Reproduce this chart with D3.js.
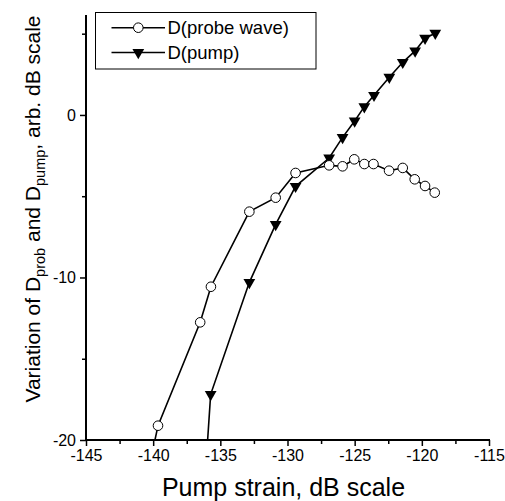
<!DOCTYPE html>
<html><head><meta charset="utf-8">
<script src="https://cdn.jsdelivr.net/npm/d3@7"></script>
<style>body{margin:0;background:#fff}svg{display:block}text{font-family:"Liberation Sans",Arial,sans-serif;fill:#000}</style>
</head><body>
<svg id="c" width="505" height="501"></svg>
<script>
// data
const probeX = [-140.2, -139.64, -136.5, -135.7, -132.84, -130.88, -129.4, -126.9, -125.9, -125.03, -124.28, -123.6, -122.44, -121.42, -120.53, -119.76, -119.04];
const probeY = [-21.3, -19.12, -12.76, -10.57, -5.95, -5.09, -3.57, -3.1, -3.16, -2.73, -3.02, -3.02, -3.43, -3.26, -3.96, -4.37, -4.78];
const pumpX = [-136.5, -135.72, -132.84, -130.88, -129.4, -126.9, -125.9, -125.0, -124.28, -123.56, -122.42, -121.42, -120.5, -119.76, -119.0];
const pumpY = [-26.9, -17.19, -10.3, -6.73, -4.39, -2.65, -1.38, -0.37, 0.51, 1.21, 2.32, 3.24, 3.94, 4.72, 5.03];
const xMajor = [-145, -140, -135, -130, -125, -120, -115];
const xMinor = [-142.5, -137.5, -132.5, -127.5, -122.5, -117.5];
const yMajor = [-20, -10, 0];
const yMinor = [-15, -5, 5];
const legendLabels = ["D(probe wave)", "D(pump)"];

const svg = d3.select("#c");
const L = 86, R = 489, T = 15, B = 440;
const x = d3.scaleLinear().domain([-145, -115]).range([L, R]);
const y = d3.scaleLinear().domain([-20, 6.15]).range([B, T]);
const fmt = d => String(d);

svg.append("defs").append("clipPath").attr("id", "clip")
  .append("rect").attr("x", L).attr("y", T).attr("width", R - L).attr("height", B - T);

// axes
svg.append("g").attr("transform", `translate(0,${B})`)
  .call(d3.axisBottom(x).tickValues(xMajor).tickSize(6).tickPadding(4).tickFormat(fmt));
svg.append("g").attr("transform", `translate(0,${B})`)
  .call(d3.axisBottom(x).tickValues(xMinor).tickSize(4).tickFormat(""));
svg.append("g").attr("transform", `translate(${L},0)`)
  .call(d3.axisLeft(y).tickValues(yMajor).tickSize(6).tickPadding(4).tickFormat(fmt));
svg.append("g").attr("transform", `translate(${L},0)`)
  .call(d3.axisLeft(y).tickValues(yMinor).tickSize(4).tickFormat(""));
svg.selectAll(".domain").remove();
svg.append("line").attr("x1", L).attr("x2", R + 1).attr("y1", B).attr("y2", B).attr("stroke", "#000").attr("stroke-width", 2);
svg.append("line").attr("x1", L).attr("x2", L).attr("y1", T).attr("y2", B + 1).attr("stroke", "#000").attr("stroke-width", 2);
svg.selectAll(".tick line").attr("stroke", "#000").attr("stroke-width", 1.5);
svg.selectAll(".tick text").style("font-size", "16px").style("font-family", '"Liberation Sans",Arial,sans-serif');

// titles
svg.append("text").attr("x", (L + R) / 2 - 4).attr("y", 496).attr("text-anchor", "middle")
  .style("font-size", "25px").text("Pump strain, dB scale");
const yt = svg.append("text").attr("transform", "translate(40,209) rotate(-90)")
  .attr("text-anchor", "middle").style("font-size", "21px");
yt.append("tspan").text("Variation of D");
yt.append("tspan").attr("dy", 5).style("font-size", "14.5px").text("prob");
yt.append("tspan").attr("dy", -5).text(" and D");
yt.append("tspan").attr("dy", 5).style("font-size", "14.5px").text("pump");
yt.append("tspan").attr("dy", -5).text(", arb. dB scale");

// series
const g = svg.append("g").attr("clip-path", "url(#clip)");
const line = d3.line().x(d => x(d[0])).y(d => y(d[1]));
const probe = probeX.map((v, i) => [v, probeY[i]]);
const pump = pumpX.map((v, i) => [v, pumpY[i]]);
g.append("path").attr("d", line(probe)).attr("fill", "none").attr("stroke", "#000").attr("stroke-width", 1.6);
g.append("path").attr("d", line(pump)).attr("fill", "none").attr("stroke", "#000").attr("stroke-width", 1.6);
const tri = d3.symbol().type(d3.symbolTriangle).size(60);
g.selectAll(".tp").data(pump).join("path").attr("class", "tp")
  .attr("d", tri).attr("transform", d => `translate(${x(d[0])},${y(d[1])}) rotate(180)`).attr("fill", "#000");
g.selectAll(".cp").data(probe).join("circle").attr("class", "cp")
  .attr("cx", d => x(d[0])).attr("cy", d => y(d[1])).attr("r", 4.8)
  .attr("fill", "#fff").attr("stroke", "#000").attr("stroke-width", 1);

// legend
const lg = svg.append("g");
lg.append("rect").attr("x", 95.5).attr("y", 12.5).attr("width", 220.5).attr("height", 56.5)
  .attr("fill", "#fff").attr("stroke", "#000").attr("stroke-width", 1);
const rows = [27.7, 52.5];
legendLabels.forEach((lab, i) => {
  const yy = rows[i];
  lg.append("line").attr("x1", 111.5).attr("x2", 165).attr("y1", yy).attr("y2", yy).attr("stroke", "#000").attr("stroke-width", 1.6);
  if (i === 0) lg.append("circle").attr("cx", 138.3).attr("cy", yy).attr("r", 4.8).attr("fill", "#fff").attr("stroke", "#000");
  else lg.append("path").attr("d", tri).attr("transform", `translate(138.3,${yy}) rotate(180)`).attr("fill", "#000");
  lg.append("text").attr("x", 167.5).attr("y", yy + 6.5).style("font-size", "18.5px").text(lab);
});
</script>
</body></html>
